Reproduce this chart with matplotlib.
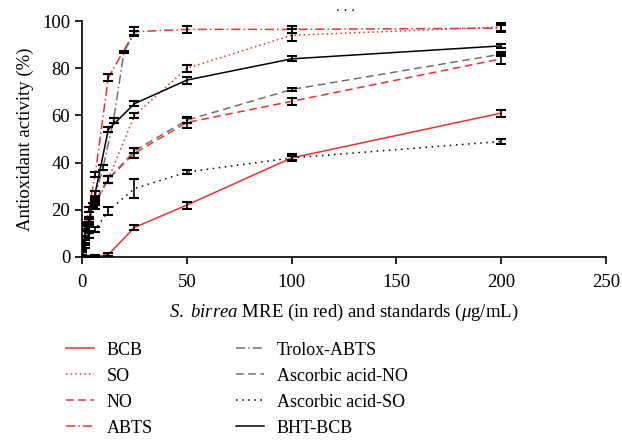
import matplotlib
matplotlib.use("Agg")
import matplotlib.pyplot as plt

plt.rcParams['font.family'] = ['Liberation Serif', 'DejaVu Serif']
plt.rcParams['mathtext.fontset'] = 'custom'
plt.rcParams['mathtext.rm'] = 'Liberation Serif'
plt.rcParams['mathtext.it'] = 'Liberation Serif:italic'

x_mre = [0, 1.5625, 3.125, 6.25, 12.5, 25, 50, 100, 200]
x_trolox = [0, 2.5, 5, 10, 15, 20, 25]

bcb = [0, 0, 0, 0.3, 1, 12.5, 22, 42, 61]
bcb_err = [0.5, 0.5, 0.5, 0.5, 0.5, 1, 1.5, 1.5, 1.5]
so = [0, 6, 12, 22, 33, 60, 80, 94, 97.5]
so_err = [1, 1, 1, 1.5, 1.5, 1, 1.5, 2.5, 1.5]
no = [0, 10, 16, 24, 33, 44, 57, 66, 84]
no_err = [1, 1, 1, 1, 1.5, 2, 2.5, 1.5, 2]
abts = [5, 13, 20, 35, 76, 95.5, 96.5, 96.5, 97]
abts_err = [1, 1, 1, 1, 1.5, 2, 1.5, 1.5, 1.5]
trolox = [4, 14, 22, 38, 58, 87, 95]
trolox_err = [1, 1, 1, 1, 1, 0.5, 1]
asc_no = [0, 8, 15, 23, 33, 45, 58, 71, 86]
asc_no_err = [1, 1, 1, 1, 1.5, 1, 1, 0.5, 1]
asc_so = [2, 5, 9, 11.5, 19.5, 29, 36, 42, 49]
asc_so_err = [1, 1, 1, 1, 1.5, 4, 1, 1, 1]
bht = [1, 10, 15, 27, 54, 65, 75, 84, 89.5]
bht_err = [1, 1, 1, 1, 1, 1, 1.5, 1, 1]

RED = '#f03030'
GRAY = '#707070'

series = [
    ("BCB", x_mre, bcb, bcb_err, RED, '-'),
    ("SO", x_mre, so, so_err, RED, (0, (1, 2))),
    ("NO", x_mre, no, no_err, RED, (0, (5, 3))),
    ("ABTS", x_mre, abts, abts_err, RED, (0, (6, 2, 1, 2))),
    ("Trolox-ABTS", x_trolox, trolox, trolox_err, GRAY, (0, (6, 2, 1, 2))),
    ("Ascorbic acid-NO", x_mre, asc_no, asc_no_err, GRAY, (0, (5, 3))),
    ("Ascorbic acid-SO", x_mre, asc_so, asc_so_err, 'black', (0, (1, 3))),
    ("BHT-BCB", x_mre, bht, bht_err, 'black', '-'),
]

fig = plt.figure(figsize=(6.22, 4.4), dpi=100)
ax = fig.add_axes([0.132, 0.416, 0.842, 0.536])

handles = []
for label, xs, ys, es, c, ls in series:
    ax.errorbar(xs, ys, yerr=es, fmt='none', ecolor='black', elinewidth=1.2,
                capsize=3.5, capthick=1.5, zorder=3)
    h, = ax.plot(xs, ys, color=c, linestyle=ls, linewidth=1.1, label=label, zorder=2)
    handles.append(h)

ax.set_xlim(0, 250)
ax.set_ylim(0, 100)
ax.set_xticks([0, 50, 100, 150, 200, 250])
ax.set_yticks([0, 20, 40, 60, 80, 100])
ax.spines['top'].set_visible(False)
ax.spines['right'].set_visible(False)
ax.spines['left'].set_linewidth(1.2)
ax.spines['bottom'].set_linewidth(1.2)
ax.tick_params(direction='out', length=5, width=1.2, labelsize=13.5)
ax.tick_params(axis='x', pad=7)
ax.set_ylabel('Antioxidant activity (%)', fontsize=13.5, labelpad=6)
ax.set_xlabel(r'$\it{S.\ birrea}$ MRE (in red) and standards ($\mu$g/mL)',
              fontsize=13.5, labelpad=8)

fig.text(0.556, 0.984, '. . .', ha='center', va='center', fontsize=11)

fig.legend(handles, [s[0] for s in series], ncol=2, loc='upper left',
           bbox_to_anchor=(0.095, 0.24), frameon=False, fontsize=13,
           handlelength=1.55, handletextpad=0.7, columnspacing=4.6,
           labelspacing=0.5, borderaxespad=0)

fig.savefig('out.png', dpi=100)
